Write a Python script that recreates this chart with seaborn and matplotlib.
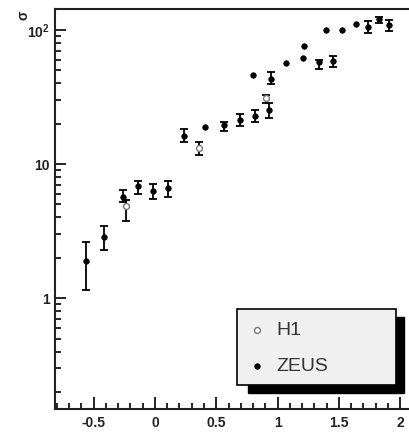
import numpy as np
import pandas as pd
import matplotlib
matplotlib.use("Agg")
import matplotlib.pyplot as plt
from matplotlib.ticker import FixedLocator, LogLocator, MultipleLocator, NullFormatter
from matplotlib.patches import Rectangle
import seaborn as sns

# ZEUS measurements: position, central value and lower/upper error-band edges
zeus_x = [-0.567, -0.414, -0.259, -0.136, -0.014, 0.109, 0.237, 0.405, 0.566, 0.697,
          0.797, 0.814, 0.928, 0.947, 1.072, 1.211, 1.220, 1.341, 1.396, 1.450,
          1.527, 1.641, 1.739, 1.829, 1.913]
zeus_y = [1.88, 2.87, 5.73, 6.81, 6.32, 6.62, 16.3, 18.9, 19.5, 21.4,
          46.4, 22.9, 25.3, 43.3, 56.5, 61.8, 75.5, 57.3, 100.0, 58.3,
          100.0, 111.0, 106.0, 121.0, 110.0]
zeus_lo = [1.15, 2.29, 5.2, 5.97, 5.51, 5.67, 14.5, np.nan, 17.7, 19.1,
           np.nan, 20.6, 22.0, 39.5, np.nan, np.nan, np.nan, 51.4, np.nan, 52.6,
           np.nan, np.nan, 95.5, 113.0, 97.7]
zeus_hi = [2.62, 3.46, 6.43, 7.5, 7.13, 7.5, 18.2, np.nan, 20.6, 23.7,
           np.nan, 25.4, 28.5, 48.6, np.nan, np.nan, np.nan, 59.5, np.nan, 64.6,
           np.nan, np.nan, 117.5, 126.0, 119.0]

# H1 measurements
h1_x = [-0.239, 0.362, 0.909]
h1_y = [4.91, 13.3, 31.1]
h1_lo = [3.78, 11.7, 28.8]
h1_hi = [5.4, 14.7, 32.6]

x_ticks = [-0.5, 0, 0.5, 1, 1.5, 2]
x_ticklabels = ["-0.5", "0", "0.5", "1", "1.5", "2"]
y_ticks = [1, 10, 100]
y_ticklabels = ["1", "10", "$\\mathbf{10^{2}}$"]

zeus = pd.DataFrame({"x": zeus_x, "y": zeus_y, "lo": zeus_lo, "hi": zeus_hi})
h1 = pd.DataFrame({"x": h1_x, "y": h1_y, "lo": h1_lo, "hi": h1_hi})

sns.set_style("ticks")
plt.rcParams["font.family"] = ["Liberation Sans", "DejaVu Sans"]
plt.rcParams["mathtext.fontset"] = "custom"
plt.rcParams["mathtext.bf"] = "Liberation Sans:bold"
plt.rcParams["mathtext.rm"] = "Liberation Sans"

W, H = 409, 446
fig = plt.figure(figsize=(W / 100, H / 100), dpi=100)
ax = fig.add_axes([55 / W, 1 - 409 / H, 354 / W, 400 / H])

ink = "#222222"

def draw_errors(df):
    m = df["lo"].notna()
    d = df[m]
    ax.errorbar(d["x"], d["y"], yerr=[d["y"] - d["lo"], d["hi"] - d["y"]],
                fmt="none", ecolor="black", elinewidth=1.3, capsize=3.2,
                capthick=1.3, zorder=2)

draw_errors(zeus)
draw_errors(h1)

sns.scatterplot(data=zeus, x="x", y="y", ax=ax, marker="o", s=16,
                color="black", edgecolor="black", linewidth=0.5,
                label="ZEUS", zorder=3)
sns.scatterplot(data=h1, x="x", y="y", ax=ax, marker="o", s=18,
                facecolor="white", edgecolor="#777777", linewidth=1.0,
                label="H1", zorder=4)

ax.set_yscale("log")
ax.set_xlim(-0.816, 2.073)
ax.set_ylim(0.149, 143.6)

ax.xaxis.set_major_locator(FixedLocator(x_ticks))
ax.set_xticklabels(x_ticklabels)
ax.xaxis.set_minor_locator(MultipleLocator(0.1))
ax.yaxis.set_major_locator(FixedLocator(y_ticks))
ax.set_yticklabels(y_ticklabels)
ax.yaxis.set_minor_locator(LogLocator(base=10, subs=range(2, 10), numticks=20))
ax.yaxis.set_minor_formatter(NullFormatter())

ax.tick_params(axis="both", which="both", direction="in", colors="black",
               labelcolor=ink, labelsize=10, width=1.2)
ax.tick_params(axis="x", which="major", length=8.5, pad=5)
ax.tick_params(axis="x", which="minor", length=4.3)
ax.tick_params(axis="y", which="major", length=8, pad=4)
ax.tick_params(axis="y", which="minor", length=4.3)
ax.tick_params(top=False, right=False, which="both")
for lab in ax.get_xticklabels() + ax.get_yticklabels():
    lab.set_fontweight("bold")

for side in ["left", "bottom", "top"]:
    ax.spines[side].set_linewidth(1.5)
    ax.spines[side].set_color("#222222")
ax.spines["right"].set_visible(False)

ax.set_xlabel("")
ax.set_ylabel("σ", rotation=90, fontsize=10, fontweight="bold", color=ink)
ax.yaxis.set_label_coords(-0.09, 0.985)
ax.yaxis.label.set_va("center")
ax.yaxis.label.set_ha("center")

# legend panel with drop shadow
ax.add_patch(Rectangle((0.546, 0.041), 0.44, 0.19, transform=ax.transAxes,
                       facecolor="black", edgecolor="black", zorder=5, clip_on=False))
ax.add_patch(Rectangle((0.513, 0.06), 0.45, 0.189, transform=ax.transAxes,
                       facecolor="#f0f0f0", edgecolor="black", linewidth=1.2,
                       zorder=6, clip_on=False))
handles, labels = ax.get_legend_handles_labels()
order = [labels.index("H1"), labels.index("ZEUS")]
leg = ax.legend([handles[i] for i in order], [labels[i] for i in order],
                loc="center left", bbox_to_anchor=(0.516, 0.151),
                frameon=False, fontsize=14, handletextpad=0.5,
                labelspacing=0.95, handlelength=1.0, borderpad=0)
leg.set_zorder(7)
for t in leg.get_texts():
    t.set_color("#333333")

fig.savefig("out.png", dpi=100)
